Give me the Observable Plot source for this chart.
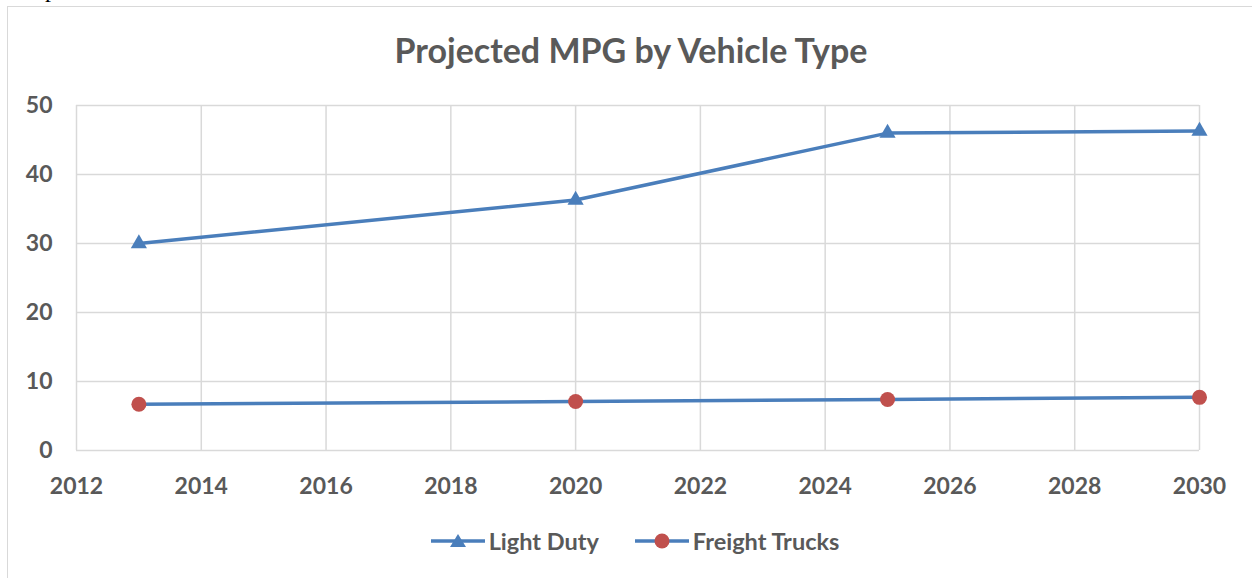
<!DOCTYPE html>
<html>
<head>
<meta charset="utf-8">
<script src="https://cdn.jsdelivr.net/npm/d3@7"></script>
<script src="https://cdn.jsdelivr.net/npm/@observablehq/plot@0.6"></script>
<style>
  html, body { margin: 0; padding: 0; background: #fff; }
  body { width: 1252px; height: 578px; position: relative; overflow: hidden; font-family: Lato, "Open Sans", sans-serif; }
  #frame { position: absolute; left: 7px; top: 6px; width: 1300px; height: 700px; border: 1.5px solid #d9d9d9; box-sizing: border-box; }
  #stray { position: absolute; left: 45px; top: -23px; font-family: "Liberation Serif", serif; font-size: 24px; color: #000; line-height: 24px; }
  #title { position: absolute; left: 0; width: 1262px; top: 28px; text-align: center; font-weight: 700; font-size: 34px; color: #595959; line-height: 44px; }
  #chart { position: absolute; left: 0; top: 90px; }
  #legend { position: absolute; left: 0; width: 1270px; top: 526px; display: flex; justify-content: center; gap: 36px; font-weight: 700; font-size: 23.5px; color: #595959; line-height: 30px; }
  .item { display: flex; align-items: center; gap: 4px; }
  .item svg { display: block; }
</style>
</head>
<body>
<div id="frame"></div>
<div id="stray">p</div>
<div id="title">Projected MPG by Vehicle Type</div>
<div id="chart"></div>
<div id="legend"></div>
<script>
const years = [2013, 2020, 2025, 2030];
const lightDuty = [30.0, 36.3, 46.0, 46.3];
const freightTrucks = [6.7, 7.1, 7.4, 7.7];
const seriesNames = ["Light Duty", "Freight Trucks"];
const seriesColors = ["#4a7ebb", "#4a7ebb"];
const markerColors = ["#4a7ebb", "#c0504d"];
const xTicks = [2012, 2014, 2016, 2018, 2020, 2022, 2024, 2026, 2028, 2030];
const yTicks = [0, 10, 20, 30, 40, 50];

const rows = [];
years.forEach((yr, i) => {
  rows.push({year: yr, value: lightDuty[i], series: seriesNames[0]});
  rows.push({year: yr, value: freightTrucks[i], series: seriesNames[1]});
});
const ld = rows.filter(d => d.series === seriesNames[0]);
const ft = rows.filter(d => d.series === seriesNames[1]);

const chart = Plot.plot({
  width: 1252,
  height: 400,
  marginLeft: 76,
  marginRight: 53,
  marginTop: 15,
  marginBottom: 40,
  style: { fontFamily: "Lato, 'Open Sans', sans-serif", fontWeight: 700, fontSize: "23px", color: "#595959", background: "transparent", overflow: "visible" },
  x: { domain: [2012, 2030], ticks: xTicks, tickFormat: d3.format("d") },
  y: { domain: [0, 50], ticks: yTicks },
  marks: [
    Plot.gridX(xTicks, { stroke: "#d9d9d9", strokeOpacity: 1, strokeWidth: 1.5 }),
    Plot.gridY(yTicks, { stroke: "#d9d9d9", strokeOpacity: 1, strokeWidth: 1.5 }),
    Plot.axisX(xTicks, { tickSize: 0, tickPadding: 27, tickFormat: d3.format("d"), label: null, fill: "#595959" }),
    Plot.axisY(yTicks, { tickSize: 0, tickPadding: 24, label: null, fill: "#595959" }),
    Plot.line(ld, { x: "year", y: "value", stroke: seriesColors[0], strokeWidth: 3.5 }),
    Plot.line(ft, { x: "year", y: "value", stroke: seriesColors[1], strokeWidth: 3.5 }),
    Plot.dot(ld, { x: "year", y: "value", symbol: "triangle", r: 6, fill: markerColors[0], stroke: "none" }),
    Plot.dot(ft, { x: "year", y: "value", symbol: "circle", r: 7.5, fill: markerColors[1], stroke: "none" })
  ]
});
document.getElementById("chart").appendChild(chart);

const legend = document.getElementById("legend");
seriesNames.forEach((name, i) => {
  const item = document.createElement("div");
  item.className = "item";
  const sym = i === 0
    ? `<path d="M27,4 L35,17 L19,17 Z" fill="${markerColors[0]}"/>`
    : `<circle cx="27" cy="11" r="7.5" fill="${markerColors[1]}"/>`;
  item.innerHTML = `<svg width="54" height="22" viewBox="0 0 54 22"><line x1="0" x2="54" y1="11" y2="11" stroke="${seriesColors[i]}" stroke-width="3.5"/>${sym}</svg><span>${name}</span>`;
  legend.appendChild(item);
});
</script>
</body>
</html>
